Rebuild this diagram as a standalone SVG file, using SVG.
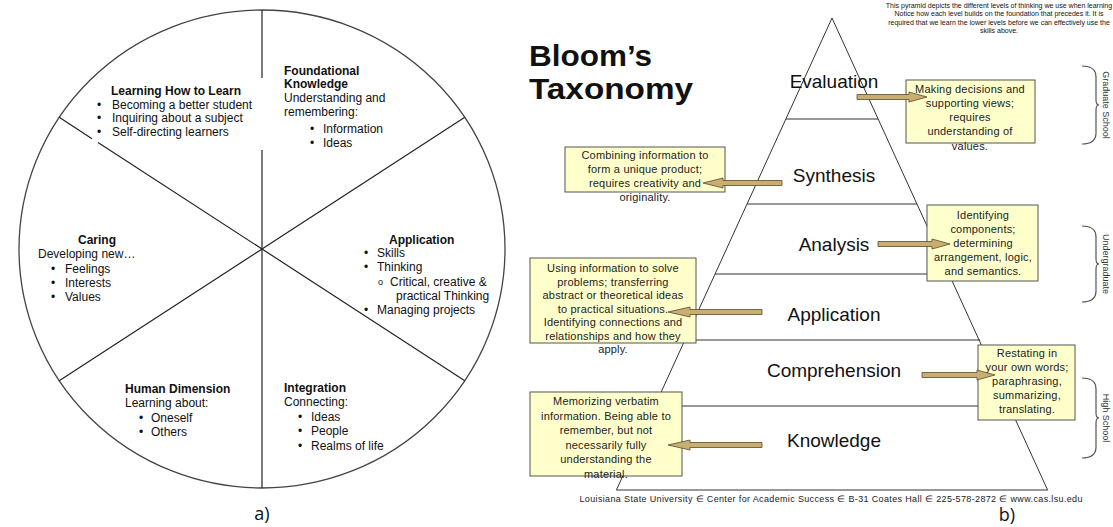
<svg xmlns="http://www.w3.org/2000/svg" width="1113" height="527" viewBox="0 0 1113 527">
<style>
text{font-family:"Liberation Sans",Arial,sans-serif;fill:#111}
.t{font-size:12px}
.b{font-weight:bold}
.ln{stroke:#222;stroke-width:1.2;fill:none}
.lvl{font-size:19px;text-anchor:middle}
.pl{stroke:#333;stroke-width:1;fill:none}
.bx{fill:#FFFFCC;stroke:#555;stroke-width:1}
.bt{font-size:11px;fill:#222;text-anchor:middle;letter-spacing:0.2px}
.arr{fill:#C9AE72;stroke:#5a4a2a;stroke-width:0.8}
.br{stroke:#555;stroke-width:1.2;fill:none}
.side{font-size:9px;fill:#333;text-anchor:middle}
.par{font-size:7px;fill:#111;text-anchor:middle}
.ttl{font-size:29px;font-weight:bold}
.cap{font-family:"Open Sans","Liberation Sans",sans-serif;font-size:18px;text-anchor:middle}
</style>
<rect width="1113" height="527" fill="#fff"/>

<!-- a) circle -->
<g id="wheel">
<ellipse cx="262" cy="249" rx="243" ry="239" fill="none" stroke="#444" stroke-width="1.3"/>
<path class="ln" d="M262,10 V78 M262,150 V488"/>
<path class="ln" d="M59.2,117.3 L92,138.7 M98,142.5 L262,249 L464.8,380.7"/>
<path class="ln" d="M59.2,380.7 L262,249 L464.8,117.3"/>
</g>
<g id="learning-how-to-learn" class="t">
<text x="111" y="95" class="b">Learning How to Learn</text>
<text x="97" y="109">•</text><text x="112" y="109">Becoming a better student</text>
<text x="97" y="122">•</text><text x="112" y="122">Inquiring about a subject</text>
<text x="97" y="136">•</text><text x="112" y="136">Self-directing learners</text>
</g>
<g id="foundational-knowledge" class="t">
<text x="284" y="75" class="b">Foundational</text>
<text x="284" y="88" class="b">Knowledge</text>
<text x="284" y="102">Understanding and</text>
<text x="284" y="116">remembering:</text>
<text x="310" y="133">•</text><text x="323" y="133">Information</text>
<text x="310" y="147">•</text><text x="323" y="147">Ideas</text>
</g>
<g id="caring" class="t">
<text x="97" y="244" class="b" text-anchor="middle">Caring</text>
<text x="38" y="258">Developing new…</text>
<text x="51" y="273">•</text><text x="65" y="273">Feelings</text>
<text x="51" y="287">•</text><text x="65" y="287">Interests</text>
<text x="51" y="301">•</text><text x="65" y="301">Values</text>
</g>
<g id="application" class="t">
<text x="389" y="244" class="b">Application</text>
<text x="364" y="257">•</text><text x="377" y="257">Skills</text>
<text x="364" y="271">•</text><text x="377" y="271">Thinking</text>
<text x="378" y="285" style="font-size:9px">o</text><text x="390" y="286">Critical, creative &amp;</text>
<text x="396" y="300">practical Thinking</text>
<text x="364" y="314">•</text><text x="377" y="314">Managing projects</text>
</g>
<g id="human-dimension" class="t">
<text x="125" y="393" class="b">Human Dimension</text>
<text x="125" y="407">Learning about:</text>
<text x="139" y="422">•</text><text x="151" y="422">Oneself</text>
<text x="139" y="436">•</text><text x="151" y="436">Others</text>
</g>
<g id="integration" class="t">
<text x="284" y="392" class="b">Integration</text>
<text x="284" y="406">Connecting:</text>
<text x="298" y="421">•</text><text x="311" y="421">Ideas</text>
<text x="298" y="435">•</text><text x="311" y="435">People</text>
<text x="298" y="450">•</text><text x="311" y="450">Realms of life</text>
</g>
<text class="cap" x="262" y="520">a)</text>

<!-- b) pyramid -->
<g id="title">
<text class="ttl" x="529" y="66" textLength="123" lengthAdjust="spacingAndGlyphs">Bloom’s</text>
<text class="ttl" x="529" y="99" textLength="164" lengthAdjust="spacingAndGlyphs">Taxonomy</text>
</g>
<g id="note">
<text class="par" x="999" y="8">This pyramid depicts the different levels of thinking we use when learning</text>
<text class="par" x="999" y="16">Notice how  each level builds on the foundation that precedes it.  It is</text>
<text class="par" x="999" y="24.5">required that we learn the lower levels before we can effectively use the</text>
<text class="par" x="999" y="32.5">skills above.</text>
</g>
<g id="pyramid">
<path class="pl" d="M616.4,490 L832,18 L1047.6,490 Z"/>
<path class="pl" d="M785.8,119 H878.2 M747,204 H917 M715,274 H949 M684,340 H980 M651,406 H1013"/>
<text class="lvl" x="834" y="88">Evaluation</text>
<text class="lvl" x="834" y="182">Synthesis</text>
<text class="lvl" x="834" y="251">Analysis</text>
<text class="lvl" x="834" y="321">Application</text>
<text class="lvl" x="834" y="377">Comprehension</text>
<text class="lvl" x="834" y="447">Knowledge</text>
</g>
<g id="box-synthesis">
<rect class="bx" x="565" y="147" width="160" height="45"/>
<text class="bt" x="645" y="159">Combining information to</text>
<text class="bt" x="645" y="173">form a unique product;</text>
<text class="bt" x="645" y="187">requires creativity and</text>
<text class="bt" x="645" y="201">originality.</text>
</g>
<g id="box-evaluation">
<rect class="bx" x="906" y="80" width="129" height="63"/>
<text class="bt" x="970" y="93">Making decisions and</text>
<text class="bt" x="970" y="107">supporting views;</text>
<text class="bt" x="970" y="121">requires</text>
<text class="bt" x="970" y="135">understanding of</text>
<text class="bt" x="970" y="150">values.</text>
</g>
<g id="box-analysis">
<rect class="bx" x="927" y="205" width="111" height="76"/>
<text class="bt" x="983" y="219">Identifying</text>
<text class="bt" x="983" y="233">components;</text>
<text class="bt" x="983" y="247">determining</text>
<text class="bt" x="983" y="261">arrangement, logic,</text>
<text class="bt" x="983" y="275">and semantics.</text>
</g>
<g id="box-application">
<rect class="bx" x="530" y="258" width="166" height="85"/>
<text class="bt" x="613" y="272">Using information to solve</text>
<text class="bt" x="613" y="285.5">problems; transferring</text>
<text class="bt" x="613" y="299">abstract or theoretical ideas</text>
<text class="bt" x="613" y="312.5">to practical situations.</text>
<text class="bt" x="613" y="326">Identifying connections and</text>
<text class="bt" x="613" y="339.5">relationships and how they</text>
<text class="bt" x="613" y="353">apply.</text>
</g>
<g id="box-comprehension">
<rect class="bx" x="978" y="345" width="97" height="75"/>
<text class="bt" x="1027" y="357">Restating in</text>
<text class="bt" x="1027" y="371">your own words;</text>
<text class="bt" x="1027" y="385">paraphrasing,</text>
<text class="bt" x="1027" y="399">summarizing,</text>
<text class="bt" x="1027" y="413">translating.</text>
</g>
<g id="box-knowledge">
<rect class="bx" x="530" y="392" width="152" height="84"/>
<text class="bt" x="606" y="405">Memorizing verbatim</text>
<text class="bt" x="606" y="420">information. Being able to</text>
<text class="bt" x="606" y="434">remember, but not</text>
<text class="bt" x="606" y="449">necessarily fully</text>
<text class="bt" x="606" y="463">understanding the</text>
<text class="bt" x="606" y="478">material.</text>
</g>
<g id="connectors">
<polygon class="arr" points="857,94.5 909,94.5 909,92 927,97 909,102 909,99.5 857,99.5"/>
<polygon class="arr" points="782,180.5 723,180.5 723,178 703,183 723,188 723,185.5 782,185.5"/>
<polygon class="arr" points="878,241.5 932,241.5 932,239 950,244 932,249 932,246.5 878,246.5"/>
<polygon class="arr" points="762,309.5 690,309.5 690,307 668,312 690,317 690,314.5 762,314.5"/>
<polygon class="arr" points="922,372.5 977,372.5 977,370 995,375 977,380 977,377.5 922,377.5"/>
<polygon class="arr" points="762,442.5 690,442.5 690,440 668,445 690,450 690,447.5 762,447.5"/>
</g>
<g id="braces">
<path class="br" d="M1082,66 Q1096,66 1096,77 L1096,100 Q1096,105 1099,105 Q1096,105 1096,110 L1096,133 Q1096,144 1082,144"/>
<path class="br" d="M1082,226 Q1096,226 1096,237 L1096,259 Q1096,264 1099,264 Q1096,264 1096,269 L1096,291 Q1096,302 1082,302"/>
<path class="br" d="M1082,378 Q1096,378 1096,389 L1096,413 Q1096,418 1099,418 Q1096,418 1096,423 L1096,447 Q1096,458 1082,458"/>
<text class="side" transform="translate(1103,105) rotate(90)">Graduate School</text>
<text class="side" transform="translate(1103,264) rotate(90)">Undergraduate</text>
<text class="side" transform="translate(1103,418) rotate(90)">High School</text>
</g>
<text x="831" y="502" style="font-size:9px;fill:#222" text-anchor="middle" textLength="503" lengthAdjust="spacing">Louisiana State University ∈ Center for Academic Success ∈ B-31 Coates Hall ∈ 225-578-2872 ∈ www.cas.lsu.edu</text>
<text class="cap" x="1007" y="521">b)</text>
</svg>
